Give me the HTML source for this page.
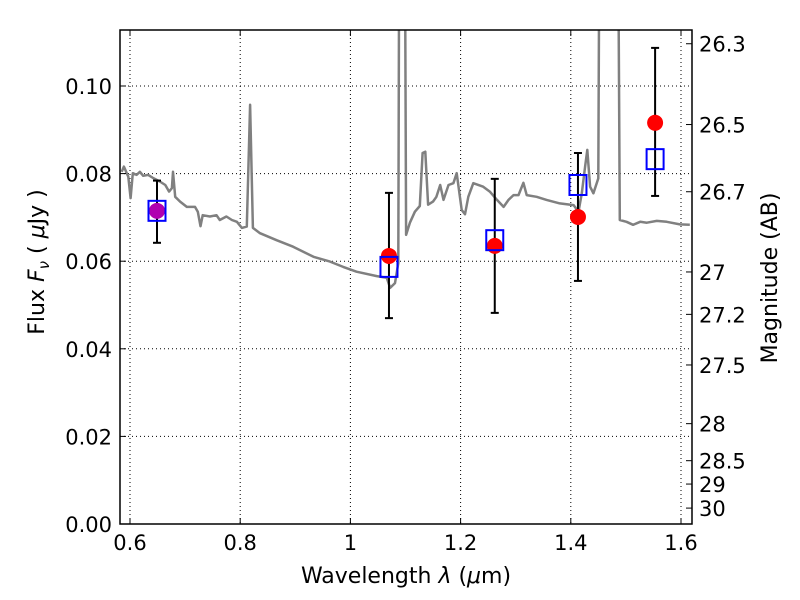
<!DOCTYPE html>
<html><head><meta charset="utf-8"><style>
html,body{margin:0;padding:0;background:#fff;}
svg{display:block;font-family:"DejaVu Sans","Liberation Sans",sans-serif;}
</style></head><body>
<svg id="chart" width="800" height="600" xmlns="http://www.w3.org/2000/svg">
<rect width="800" height="600" fill="#fff"/>
<g id="grid"></g>
<g id="spec"></g>
<g id="pts"></g>
<g id="axes"></g>
</svg>
<script>
const specLam=[0.585,0.589,0.597,0.601,0.605,0.612,0.618,0.624,0.633,0.642,0.654,0.664,0.671,0.676,0.678,0.682,0.691,0.703,0.718,0.723,0.728,0.732,0.745,0.757,0.763,0.775,0.785,0.794,0.803,0.812,0.818,0.823,0.836,0.866,0.896,0.933,0.963,0.987,1.011,1.048,1.066,1.072,1.081,1.087,1.090,1.097,1.101,1.108,1.117,1.126,1.131,1.136,1.141,1.150,1.156,1.163,1.169,1.178,1.187,1.193,1.202,1.208,1.214,1.223,1.241,1.253,1.266,1.278,1.287,1.296,1.305,1.314,1.320,1.338,1.356,1.380,1.405,1.414,1.420,1.426,1.430,1.435,1.441,1.450,1.454,1.483,1.489,1.501,1.513,1.526,1.538,1.556,1.574,1.598,1.616];
const specFlux=[0.0804,0.0816,0.0793,0.0744,0.0801,0.0797,0.0804,0.0795,0.0797,0.0790,0.0782,0.0774,0.0759,0.0767,0.0804,0.0747,0.0736,0.0724,0.0724,0.0713,0.0680,0.0705,0.0702,0.0705,0.0694,0.0702,0.0694,0.0690,0.0676,0.0679,0.0957,0.0676,0.0664,0.0648,0.0633,0.0610,0.0599,0.0587,0.0576,0.0566,0.0562,0.0539,0.0550,0.0596,0.2,0.2,0.0660,0.0688,0.0713,0.0726,0.0847,0.0850,0.0729,0.0736,0.0747,0.0774,0.0740,0.0774,0.0778,0.0801,0.0717,0.0707,0.0747,0.0778,0.0770,0.0759,0.0740,0.0724,0.0740,0.0751,0.0751,0.0779,0.0751,0.0747,0.0740,0.0732,0.0728,0.0713,0.0755,0.0816,0.0854,0.0770,0.0755,0.0789,0.2,0.2,0.0694,0.0690,0.0683,0.0690,0.0688,0.0692,0.0690,0.0684,0.0683];
const obsLam=[0.649,1.070,1.262,1.413,1.553];
const obsFlux=[0.0715,0.0612,0.0635,0.0701,0.0916];
const errHi=[0.0784,0.0756,0.0788,0.0847,0.1087];
const errLo=[0.0642,0.0470,0.0482,0.0555,0.0749];
const modelFlux=[0.0715,0.0587,0.0648,0.0774,0.0833];
const xTicks=[0.6,0.8,1.0,1.2,1.4,1.6];
const xTickLabels=["0.6","0.8","1","1.2","1.4","1.6"];
const yTicks=[0,0.02,0.04,0.06,0.08,0.10];
const yTickLabels=["0.00","0.02","0.04","0.06","0.08","0.10"];
const magTicks=[26.3,26.5,26.7,27,27.2,27.5,28,28.5,29,30];
const magTickLabels=["26.3","26.5","26.7","27","27.2","27.5","28","28.5","29","30"];

const L=120,R=692,T=30,B=524;
const X=v=>130+(v-0.6)*551;
const Y=v=>524-v*4380;
const NS="http://www.w3.org/2000/svg";
function mk(tag,parent,attrs){const e=document.createElementNS(NS,tag);for(const k in attrs)e.setAttribute(k,attrs[k]);parent.appendChild(e);return e;}
const grid=document.getElementById('grid'),spec=document.getElementById('spec'),pts=document.getElementById('pts'),axes=document.getElementById('axes');

xTicks.forEach((t,i)=>{
 const g=mk('line',grid,{x1:X(t),x2:X(t),y1:T,y2:B,stroke:'#000','stroke-width':1,'stroke-dasharray':'1,3'});
 
 
 mk('line',axes,{x1:X(t),x2:X(t),y1:B,y2:B-6,stroke:'#000'});
 mk('line',axes,{x1:X(t),x2:X(t),y1:T,y2:T+6,stroke:'#000'});
 const tx=mk('text',axes,{x:X(t),y:B+26,'font-size':21,'text-anchor':'middle'});
 tx.textContent=xTickLabels[i];
 
 
});
yTicks.forEach((t,i)=>{
 if(t>0){const g=mk('line',grid,{x1:L,x2:R,y1:Y(t),y2:Y(t),stroke:'#000','stroke-width':1,'stroke-dasharray':'1,3'});
 
 }
 mk('line',axes,{x1:L,x2:L+6,y1:Y(t),y2:Y(t),stroke:'#000'});
 const tx=mk('text',axes,{x:L-8,y:Y(t)+8,'font-size':21,'text-anchor':'end'});
 tx.textContent=yTickLabels[i];
 
 
});
magTicks.forEach((m,i)=>{
 const f=Math.pow(10,(23.9-m)/2.5);
 const y=Y(f);
 mk('line',axes,{x1:R,x2:R-6,y1:y,y2:y,stroke:'#000'});
 const tx=mk('text',axes,{x:R+7,y:y+8,'font-size':21});
 tx.textContent=magTickLabels[i];
 
 
});

const defs=mk('defs',document.getElementById('chart'),{});
const cp=mk('clipPath',defs,{id:'clip'});mk('rect',cp,{x:L,y:T,width:R-L,height:B-T});
const d=specLam.map((l,i)=>(i?'L':'M')+X(l).toFixed(1)+','+Y(specFlux[i]).toFixed(1)).join('');
const sp=mk('path',spec,{d:d,fill:'none',stroke:'#808080','stroke-width':2.5,'clip-path':'url(#clip)','stroke-linejoin':'round'});



obsLam.forEach((l,i)=>{
 const x=X(l);
 const eb=mk('g',pts,{stroke:'#000','stroke-width':2});
 
 
 mk('line',eb,{x1:x,x2:x,y1:Y(errHi[i]),y2:Y(errLo[i])});
 mk('line',eb,{x1:x-4,x2:x+4,y1:Y(errHi[i]),y2:Y(errHi[i])});
 mk('line',eb,{x1:x-4,x2:x+4,y1:Y(errLo[i]),y2:Y(errLo[i])});
 const c=mk('circle',pts,{cx:x,cy:Y(obsFlux[i]),r:8,fill:i===0?'#b000b0':'#ff0000'});
 
 
 const s=mk('rect',pts,{x:x-8.5,y:Y(modelFlux[i])-10,width:17,height:20,fill:'none',stroke:'#0000ff','stroke-width':2});
 
 
});

const fr=mk('rect',axes,{x:L,y:T,width:R-L,height:B-T,fill:'none',stroke:'#000','stroke-width':1.5});


const xl=mk('text',axes,{x:406,y:583,'font-size':22,'text-anchor':'middle'});
xl.innerHTML='Wavelength  <tspan font-style="italic">λ</tspan> (<tspan font-style="italic">μ</tspan>m)';


const yl=mk('text',axes,{x:0,y:0,'font-size':22,'text-anchor':'middle',transform:'translate(44,262) rotate(-90)'});
yl.innerHTML='Flux  <tspan font-style="italic">F</tspan><tspan font-style="italic" font-size="15" dy="5">ν</tspan><tspan dy="-5">  (  </tspan><tspan font-style="italic">μ</tspan>Jy )';


const ml=mk('text',axes,{x:0,y:0,'font-size':22,'text-anchor':'middle',transform:'translate(777,278) rotate(-90)'});
ml.textContent='Magnitude (AB)';


</script>
</body></html>
